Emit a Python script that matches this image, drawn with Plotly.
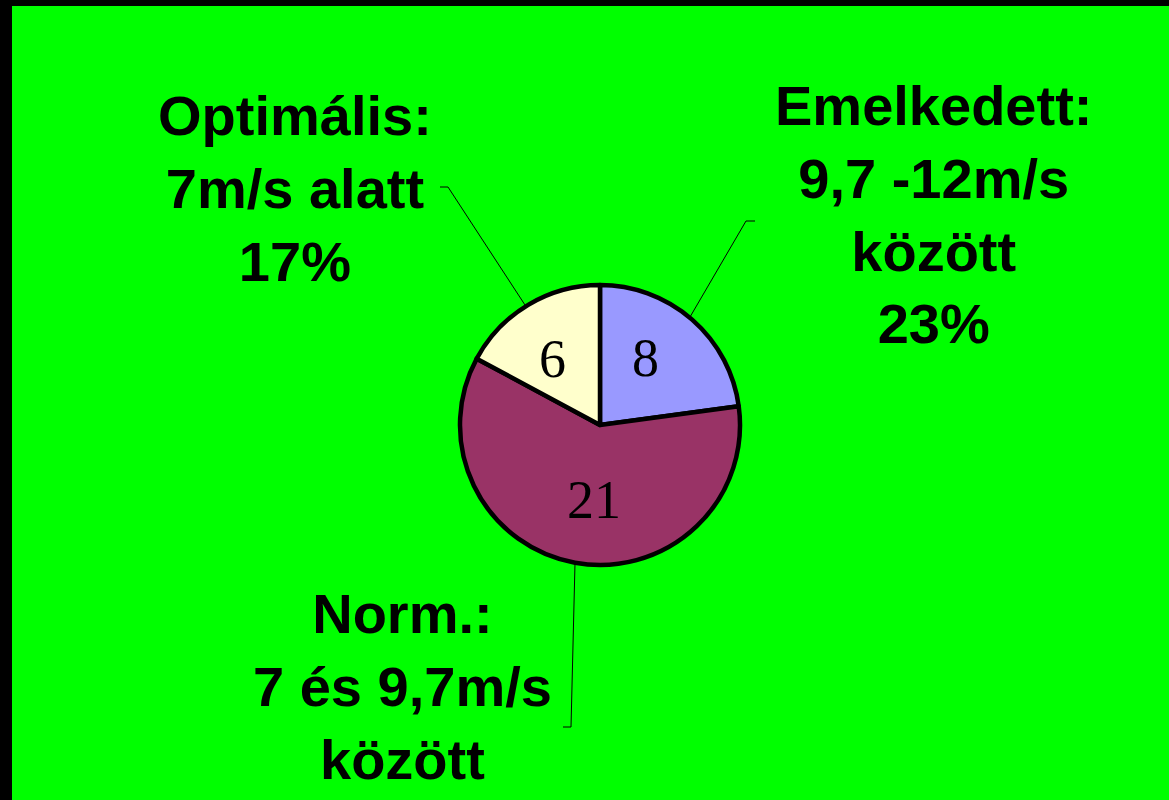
import math
import plotly.graph_objects as go

# Data
values = [8, 21, 6]
slice_colors = ["#9999FF", "#993366", "#FFFFCC"]
category_labels = [
    "Emelkedett:<br>9,7 -12m/s<br>között<br>23%",
    "Norm.:<br>7 és 9,7m/s<br>között",
    "Optimális:<br>7m/s alatt<br>17%",
]

W, H = 1169, 800


def px(x, y):
    return x / W, 1 - y / H


cx, cy, R = 600, 425, 140

fig = go.Figure()
fig.add_trace(go.Pie(
    values=values,
    labels=["Emelkedett", "Norm.", "Optimális"],
    sort=False,
    direction="clockwise",
    rotation=0,
    marker=dict(colors=slice_colors, line=dict(color="black", width=4.5)),
    textinfo="none",
    hoverinfo="label+value+percent",
    showlegend=False,
    domain=dict(x=[(cx - R) / W, (cx + R) / W], y=[1 - (cy + R) / H, 1 - (cy - R) / H]),
))

# number labels inside slices, positioned from the data angles
total = sum(values)
cum = 0
annotations = []
for v in values:
    mid = (cum + v / 2) / total * 2 * math.pi - math.radians(6)
    cum += v
    r = 0.56 * R
    x = cx + r * math.sin(mid)
    y = cy - r * math.cos(mid) - 3
    ax, ay = px(x, y)
    annotations.append(dict(
        x=ax, y=ay, xref="paper", yref="paper", text=str(v), showarrow=False,
        xanchor="center", yanchor="middle",
        font=dict(family="Liberation Serif", size=54, color="black"),
    ))

label_pos = [(933, 214), (402, 686), (295, 188)]
for txt, (x, y) in zip(category_labels, label_pos):
    ax, ay = px(x, y)
    annotations.append(dict(
        x=ax, y=ay, xref="paper", yref="paper", text="<b>" + txt + "</b>", showarrow=False,
        xanchor="center", yanchor="middle", align="center",
        font=dict(family="Liberation Sans", size=56, color="black"),
    ))

shapes = []
# black frame (top and left)
shapes.append(dict(type="rect", xref="paper", yref="paper", x0=0, x1=1, y0=1 - 6 / H, y1=1,
                   fillcolor="black", line=dict(width=0)))
shapes.append(dict(type="rect", xref="paper", yref="paper", x0=0, x1=12 / W, y0=0, y1=1,
                   fillcolor="black", line=dict(width=0)))

# leader lines
leaders = [
    [(440, 187), (448, 187), (525, 305)],
    [(755, 221), (746, 221), (690, 317)],
    [(575, 563), (571, 727), (563, 727)],
]
for pts in leaders:
    for (x0, y0), (x1, y1) in zip(pts[:-1], pts[1:]):
        a0, b0 = px(x0, y0)
        a1, b1 = px(x1, y1)
        shapes.append(dict(type="line", xref="paper", yref="paper", x0=a0, y0=b0, x1=a1, y1=b1,
                           line=dict(color="black", width=1)))

fig.update_layout(
    width=W, height=H,
    margin=dict(l=0, r=0, t=0, b=0),
    paper_bgcolor="#00FF00",
    plot_bgcolor="#00FF00",
    annotations=annotations,
    shapes=shapes,
)

fig.write_html("out.html", config={"displayModeBar": False},
               post_script="document.body.style.margin='0';")
